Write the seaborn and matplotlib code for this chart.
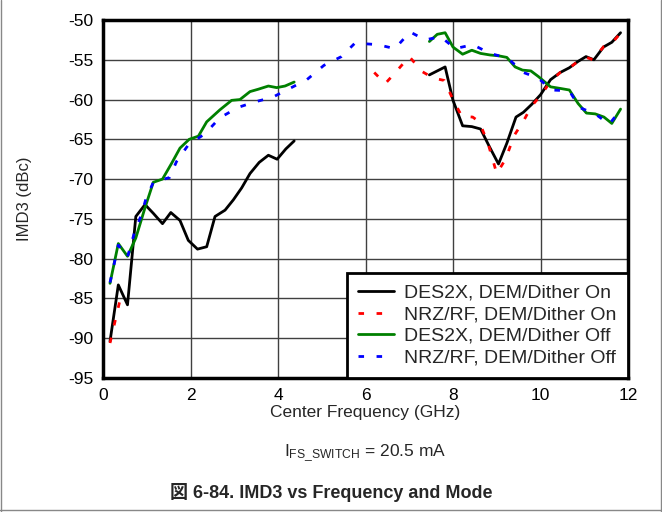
import numpy as np
import pandas as pd
import matplotlib
matplotlib.use("Agg")
import matplotlib.pyplot as plt
from matplotlib.lines import Line2D
import seaborn as sns

# --- DATA ---
# DES2X, DEM/Dither On  (two segments, gap between ~4.4 and ~7.5 GHz)
des_on_f1 = [0.16, 0.35, 0.56, 0.75, 0.96, 1.15, 1.36, 1.55, 1.76, 1.95, 2.16, 2.37, 2.56,
             2.79, 2.98, 3.17, 3.36, 3.57, 3.78, 3.98, 4.18, 4.37]
des_on_v1 = [-90.4, -83.3, -85.8, -74.7, -73.2, -74.3, -75.6, -74.2, -75.2, -77.7, -78.8, -78.5, -74.7,
             -73.9, -72.6, -71.1, -69.3, -67.9, -67.0, -67.5, -66.2, -65.2]
des_on_f2 = [7.46, 7.82, 8.0, 8.22, 8.43, 8.63, 8.83, 9.04, 9.23, 9.44, 9.61, 9.80, 10.0,
             10.23, 10.45, 10.66, 10.86, 11.04, 11.22, 11.44, 11.63, 11.83]
des_on_v2 = [-56.9, -55.9, -60.1, -63.3, -63.4, -63.7, -65.9, -68.1, -65.5, -62.2, -61.6, -60.6, -59.4,
             -57.5, -56.6, -56.0, -55.2, -54.6, -55.0, -53.4, -52.8, -51.6]

# NRZ/RF, DEM/Dither On
nrz_on_f1 = [0.16, 0.38]
nrz_on_v1 = [-90.6, -85.4]
nrz_on_f2 = [6.2, 6.45, 6.7, 7.0, 7.3, 7.55, 7.8, 8.0, 8.2, 8.45, 8.6, 8.8, 9.0, 9.2, 9.4, 9.6,
             9.8, 10.0, 10.25, 10.45, 10.65, 10.85, 11.05, 11.2, 11.45, 11.65, 11.85]
nrz_on_v2 = [-56.6, -58.0, -56.5, -54.6, -56.5, -57.3, -57.6, -60.0, -62.1, -62.2, -62.8, -65.5, -69.3,
             -67.5, -64.5, -62.8, -60.8, -59.5, -57.6, -56.6, -56.1, -55.2, -54.7, -55.0, -53.3,
             -52.8, -51.5]

# DES2X, DEM/Dither Off
des_off_f1 = [0.16, 0.35, 0.56, 0.75, 0.96, 1.15, 1.36, 1.57, 1.76, 1.97, 2.18, 2.37, 2.67,
              2.94, 3.13, 3.36, 3.55, 3.78, 3.97, 4.16, 4.37]
des_off_v1 = [-83.1, -78.1, -79.7, -77.4, -73.6, -70.4, -70.0, -68.0, -66.1, -65.0, -64.6, -62.8, -61.3,
              -60.1, -60.0, -59.0, -58.7, -58.3, -58.5, -58.3, -57.8]
des_off_f2 = [7.46, 7.64, 7.82, 8.0, 8.22, 8.43, 8.63, 8.85, 9.04, 9.23, 9.42, 9.59, 9.78, 9.95,
              10.23, 10.45, 10.66, 10.86, 11.05, 11.25, 11.45, 11.63, 11.83]
des_off_v2 = [-52.7, -51.8, -51.6, -53.4, -54.3, -53.8, -54.2, -54.4, -54.5, -54.7, -55.9, -56.3, -56.4,
              -57.1, -58.4, -58.6, -58.8, -60.5, -61.7, -61.8, -62.2, -63.0, -61.2]

# NRZ/RF, DEM/Dither Off
nrz_off_f = [0.16, 0.35, 0.56, 0.72, 0.87, 0.98, 1.15, 1.52, 1.68, 1.95, 2.33, 2.67, 3.08, 3.47,
             3.88, 4.27, 4.66, 5.05, 5.45, 5.76, 6.28, 6.67, 7.02, 7.36, 7.72, 8.05, 8.45, 8.85,
             9.25, 9.61, 9.95, 10.25, 10.66, 10.89, 11.25, 11.57, 11.83]
nrz_off_v = [-83.0, -78.3, -79.8, -76.7, -74.6, -72.5, -70.4, -69.8, -67.8, -65.7, -64.3, -62.3, -61.0,
             -60.3, -59.7, -58.6, -57.5, -55.7, -54.6, -52.9, -53.1, -53.6, -51.5, -52.5, -52.1,
             -53.6, -53.1, -54.2, -54.8, -56.6, -57.3, -58.8, -58.9, -61.0, -61.8, -63.1, -61.3]

labels = ["DES2X, DEM/Dither On", "NRZ/RF, DEM/Dither On",
          "DES2X, DEM/Dither Off", "NRZ/RF, DEM/Dither Off"]

# --- BUILD LONG TABLE ---
rows = []
def add(label, seg, fs, vs):
    for f, v in zip(fs, vs):
        rows.append({"freq": f, "imd3": v, "series": label, "seg": label + seg})

add(labels[0], "a", des_on_f1, des_on_v1)
add(labels[0], "b", des_on_f2, des_on_v2)
add(labels[1], "a", nrz_on_f1, nrz_on_v1)
add(labels[1], "b", nrz_on_f2, nrz_on_v2)
add(labels[2], "a", des_off_f1, des_off_v1)
add(labels[2], "b", des_off_f2, des_off_v2)
add(labels[3], "a", nrz_off_f, nrz_off_v)
df = pd.DataFrame(rows)

palette = {labels[0]: "#000000", labels[1]: "#ff0000", labels[2]: "#008000", labels[3]: "#0000ff"}
dashes = {labels[0]: "", labels[1]: (2, 4.5), labels[2]: "", labels[3]: (2, 4.5)}

# --- PLOT ---
sns.set_style("white")
plt.rcParams['font.family'] = ['Liberation Sans', 'DejaVu Sans']
plt.rcParams['mathtext.fontset'] = 'custom'
plt.rcParams['mathtext.rm'] = 'Liberation Sans'
plt.rcParams['axes.unicode_minus'] = False

FS = 12.5
fig = plt.figure(figsize=(6.62, 5.12), dpi=100)
ax = fig.add_axes([103 / 662, 1 - 378 / 512, 525 / 662, 358 / 512])

sns.lineplot(data=df, x="freq", y="imd3", hue="series", style="series", units="seg",
             estimator=None, sort=False, palette=palette, dashes=dashes,
             hue_order=labels, style_order=labels, linewidth=2, ax=ax)

ax.set_xlim(0, 12)
ax.set_ylim(-95, -50)
ax.set_xticks(np.arange(0, 13, 2))
ax.set_yticks(np.arange(-95, -49, 5))
ax.tick_params(length=0, labelsize=FS, pad=7, colors="black")
ax.grid(True, color="#404040", linewidth=1)
for s in ax.spines.values():
    s.set_linewidth(2.5)
    s.set_color("black")

ax.set_xlabel("Center Frequency (GHz)", fontsize=FS, labelpad=2)
ax.set_ylabel("IMD3 (dBc)", fontsize=12, labelpad=26)

handles, labs = ax.get_legend_handles_labels()
leg = ax.legend(handles, labs, loc="lower right", fontsize=14, frameon=True, fancybox=False,
                borderaxespad=0, handlelength=1.85, labelspacing=0.2, borderpad=0.6,
                handletextpad=0.5)
leg.get_frame().set_edgecolor("black")
leg.get_frame().set_linewidth(2)
leg.get_frame().set_alpha(1)

fig.text(365 / 662, 1 - 453 / 512, r"$\mathregular{I_{FS\_SWITCH}}$ = 20.5 mA",
         ha="center", va="center", fontsize=FS)
fig.text(331 / 662, 1 - 492 / 512, "図 6-84. IMD3 vs Frequency and Mode",
         ha="center", va="center", fontsize=13, fontweight="bold",
         family=['Liberation Sans', 'Noto Sans CJK JP'])

# thin figure frame (left, right, bottom)
for xs, ys in [([0.001, 0.001], [0, 1]), ([0.999, 0.999], [0, 1]), ([0, 1], [0.004, 0.004])]:
    fig.add_artist(Line2D(xs, ys, transform=fig.transFigure, color="#888888", linewidth=1))

fig.savefig("out.png", dpi=100)
